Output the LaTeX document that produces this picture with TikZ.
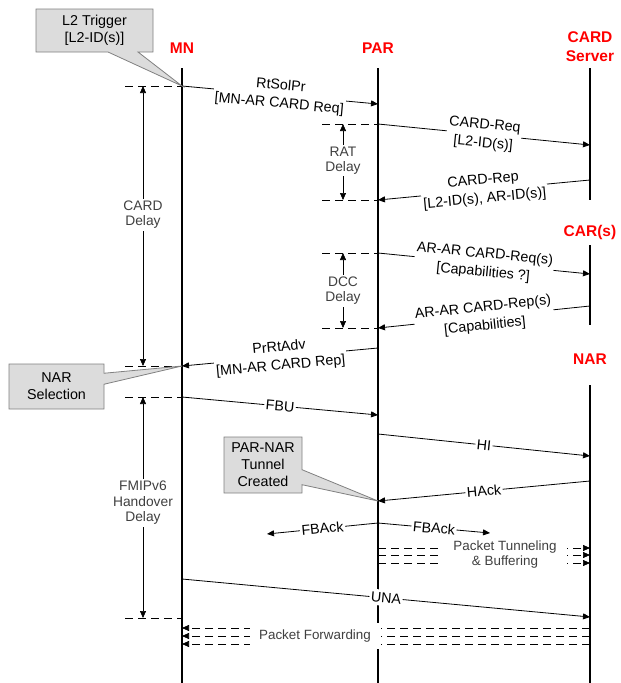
\documentclass[tikz,border=0pt]{standalone}
\usepackage{fontspec}
\setmainfont{Liberation Sans}
\usetikzlibrary{arrows.meta,positioning,shapes.callouts,calc}
\definecolor{actorred}{HTML}{FF0000}
\definecolor{notefill}{HTML}{DCDCDC}
\definecolor{noteedge}{HTML}{808080}
\definecolor{softtext}{HTML}{404040}

\begin{document}
\begin{tikzpicture}[x=1pt,y=-1pt,
    actor/.style={text=actorred,align=center,font=\fontsize{15.5}{19}\selectfont\bfseries},
    lifeline/.style={line width=2.4pt},
    msg/.style={-{Triangle[length=7pt,width=6pt]},line width=0.8pt},
    lbl/.style={midway,sloped,fill=white,inner xsep=1.5pt,inner ysep=3pt,align=center,font=\fontsize{14.3}{18.5}\selectfont},
    tick/.style={dash pattern=on 8pt off 5pt,line width=0.8pt},
    delay/.style={{Triangle[length=7pt,width=6pt]}-{Triangle[length=7pt,width=6pt]},line width=0.6pt},
    delaylbl/.style={fill=white,inner sep=2pt,align=center,text=softtext,font=\fontsize{13.8}{15.5}\selectfont},
    pkt/.style={-{Triangle[length=7pt,width=6pt]},dash pattern=on 8pt off 5pt,line width=0.7pt},
    pktlbl/.style={fill=white,inner sep=0pt,align=center,text=softtext,font=\fontsize{13.4}{15}\selectfont},
    note/.style={rectangle callout,draw=noteedge,fill=notefill,line width=0.8pt,inner sep=0pt,align=center,font=\fontsize{14.3}{17}\selectfont}
]
\useasboundingbox (0,0) rectangle (621,683);

\node[actor] (mn) at (182,48) {MN};
\node[actor] (par) at (378,48) {PAR};
\node[actor] (card) at (590,47) {CARD\\Server};
\node[actor] (car) at (590,232) {CAR(s)};
\node[actor] (nar) at (590,359) {NAR};

\coordinate (mn top) at (182,68);    \coordinate (mn bot) at (182,683);
\coordinate (par top) at (378,68);   \coordinate (par bot) at (378,683);
\coordinate (card top) at (590,68);  \coordinate (card bot) at (590,200);
\coordinate (car top) at (590,245);  \coordinate (car bot) at (590,325);
\coordinate (nar top) at (590,385);  \coordinate (nar bot) at (590,683);

\draw[lifeline] (mn top) -- (mn bot);
\draw[lifeline] (par top) -- (par bot);
\draw[lifeline] (card top) -- (card bot);
\draw[lifeline] (car top) -- (car bot);
\draw[lifeline] (nar top) -- (nar bot);

\coordinate (mn rtsol) at (182,86);     \coordinate (par rtsol) at (378,104);
\coordinate (par cardreq) at (378,124); \coordinate (card cardreq) at (590,145);
\coordinate (card cardrep) at (590,180);\coordinate (par cardrep) at (378,200);
\coordinate (par arreq) at (378,253);   \coordinate (car arreq) at (590,274);
\coordinate (car arrep) at (590,306);   \coordinate (par arrep) at (378,328);
\coordinate (par prrt) at (378,348);    \coordinate (mn prrt) at (182,366);
\coordinate (mn fbu) at (182,397);      \coordinate (par fbu) at (378,415);
\coordinate (par hi) at (378,434);      \coordinate (nar hi) at (590,456);
\coordinate (nar hack) at (590,481);    \coordinate (par hack) at (378,501);
\coordinate (par fback) at (378,523);
\coordinate (fback left) at (267,534);  \coordinate (fback right) at (490,533);
\coordinate (mn una) at (182,579);      \coordinate (nar una) at (590,617);
\coordinate (mn ho) at (182,618);

\draw[msg] (mn rtsol) -- node[lbl] {RtSolPr\\{[MN-AR CARD Req]}} (par rtsol);
\draw[msg] (par cardreq) -- node[lbl] {CARD-Req\\{[L2-ID(s)]}} (card cardreq);
\draw[msg] (card cardrep) -- node[lbl] {CARD-Rep\\{[L2-ID(s), AR-ID(s)]}} (par cardrep);
\draw[msg] (par arreq) -- node[lbl] {AR-AR CARD-Req(s)\\{[Capabilities ?]}} (car arreq);
\draw[msg] (car arrep) -- node[lbl] {AR-AR CARD-Rep(s)\\{[Capabilities]}} (par arrep);
\draw[msg] (par prrt) -- node[lbl] {PrRtAdv\\{[MN-AR CARD Rep]}} (mn prrt);
\draw[msg] (mn fbu) -- node[lbl] {FBU} (par fbu);
\draw[msg] (par hi) -- node[lbl] {HI} (nar hi);
\draw[msg] (nar hack) -- node[lbl] {HAck} (par hack);
\draw[msg] (par fback) -- node[lbl] {FBAck} (fback left);
\draw[msg] (par fback) -- node[lbl] {FBAck} (fback right);
\draw[msg] (mn una) -- node[lbl] {UNA} (nar una);

\foreach \y [count=\i] in {548,555,563} {
  \coordinate (par tun\i) at (378,\y);
  \coordinate (nar tun\i) at (590,\y);
  \draw[pkt] (par tun\i) -- (nar tun\i);
}
\node[pktlbl,minimum width=124pt,minimum height=34pt] (tunnel) at (505,555) {Packet Tunneling\\\& Buffering};

\foreach \y [count=\i] in {628,636,644} {
  \coordinate (nar fwd\i) at (590,\y);
  \coordinate (mn fwd\i) at (182,\y);
  \draw[pkt] (nar fwd\i) -- (mn fwd\i);
}
\node[pktlbl,minimum width=131pt,minimum height=26pt] (forward) at (315,636) {Packet Forwarding};

\coordinate (card delay top) at (143,86);  \coordinate (card delay bot) at (143,366);
\coordinate (rat top) at (343,124);        \coordinate (rat bot) at (343,200);
\coordinate (dcc top) at (343,253);        \coordinate (dcc bot) at (343,328);
\coordinate (ho top) at (143,397);         \coordinate (ho bot) at (143,618);

\draw[tick] ([xshift=-18pt]card delay top) -- (mn rtsol);
\draw[tick] ([xshift=-18pt]card delay bot) -- (mn prrt);
\draw[tick] ([xshift=-18pt]ho top) -- (mn fbu);
\draw[tick] ([xshift=-18pt]ho bot) -- (mn ho);
\draw[tick] ([xshift=-21pt]rat top) -- (par cardreq);
\draw[tick] ([xshift=-21pt]rat bot) -- (par cardrep);
\draw[tick] ([xshift=-21pt]dcc top) -- (par arreq);
\draw[tick] ([xshift=-21pt]dcc bot) -- (par arrep);

\draw[delay] (card delay top) -- node[delaylbl,pos=0.46] {CARD\\Delay} (card delay bot);
\draw[delay] (rat top) -- node[delaylbl,pos=0.48] {RAT\\Delay} (rat bot);
\draw[delay] (dcc top) -- node[delaylbl] {DCC\\Delay} (dcc bot);
\draw[delay] (ho top) -- node[delaylbl,pos=0.48] {FMIPv6\\Handover\\Delay} (ho bot);

\node[note,minimum width=117pt,minimum height=43pt,callout absolute pointer={(mn rtsol)},callout pointer width=30pt] (trigger) at (94.5,30.5) {L2 Trigger\\{[L2-ID(s)]}};
\node[note,minimum width=95pt,minimum height=45pt,callout absolute pointer={(mn prrt)},callout pointer width=11pt] (select) at (56.5,386.5) {NAR\\Selection};
\node[note,minimum width=78pt,minimum height=56pt,callout absolute pointer={(par hack)},callout pointer width=15pt] (tunnelnote) at (263,465) {PAR-NAR\\Tunnel\\Created};
\end{tikzpicture}
\end{document}
